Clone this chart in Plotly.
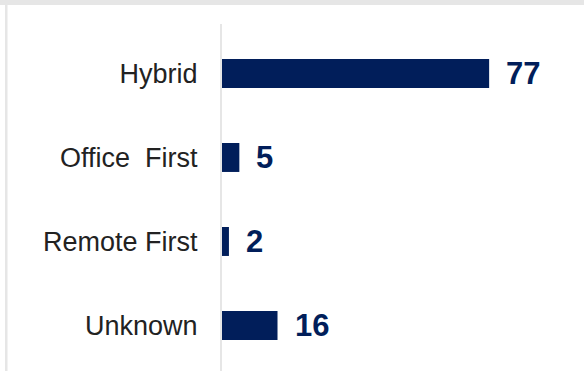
import plotly.graph_objects as go

categories = ["Hybrid", "Office\u00a0 First", "Remote First", "Unknown"]
values = [77, 5, 2, 16]
value_labels = ["77", "5", "2", "16"]

NAVY = "#011e5a"
GRAY = "#e6e6e6"

W, H = 584, 371
L, R, T, B = 222, 22, 24, 0
pw = W - L - R
ph = H - T - B

fig = go.Figure()
fig.add_trace(go.Bar(
    x=values, y=categories, orientation="h",
    marker=dict(color=NAVY, line=dict(width=0)),
    width=0.345, hoverinfo="skip",
))

for v, c, t in zip(values, categories, value_labels):
    fig.add_annotation(
        x=v, y=c, text=t, showarrow=False, xanchor="left", yanchor="middle",
        xshift=15, yshift=0,
        font=dict(family="Liberation Sans, Arial, sans-serif", size=31, color=NAVY, weight="bold"),
    )

def px_x(p):
    return (p - L) / pw

def px_y(p):
    return (H - B - p) / ph

shapes = [
    dict(type="rect", xref="paper", yref="paper", x0=px_x(0), x1=px_x(W), y0=px_y(5), y1=px_y(0),
         fillcolor=GRAY, line=dict(width=0), layer="above"),
    dict(type="rect", xref="paper", yref="paper", x0=px_x(5), x1=px_x(7.5), y0=px_y(H), y1=px_y(5),
         fillcolor=GRAY, line=dict(width=0), layer="above"),
]

fig.update_layout(
    width=W, height=H,
    margin=dict(l=L, r=R, t=T, b=B, pad=0),
    paper_bgcolor="white", plot_bgcolor="white",
    showlegend=False,
    shapes=shapes,
    xaxis=dict(range=[0, 98], showgrid=False, zeroline=False, showticklabels=False,
               showline=False, ticks=""),
    yaxis=dict(type="category", categoryorder="array", categoryarray=categories,
               range=[3.542, -0.589], showgrid=False, zeroline=False,
               showline=True, linecolor=GRAY, linewidth=2, ticks="",
               ticklabelstandoff=17,
               tickfont=dict(family="Liberation Sans, Arial, sans-serif", size=27, color="#222222")),
    bargap=0.65,
)

fig.write_html("out.html")
